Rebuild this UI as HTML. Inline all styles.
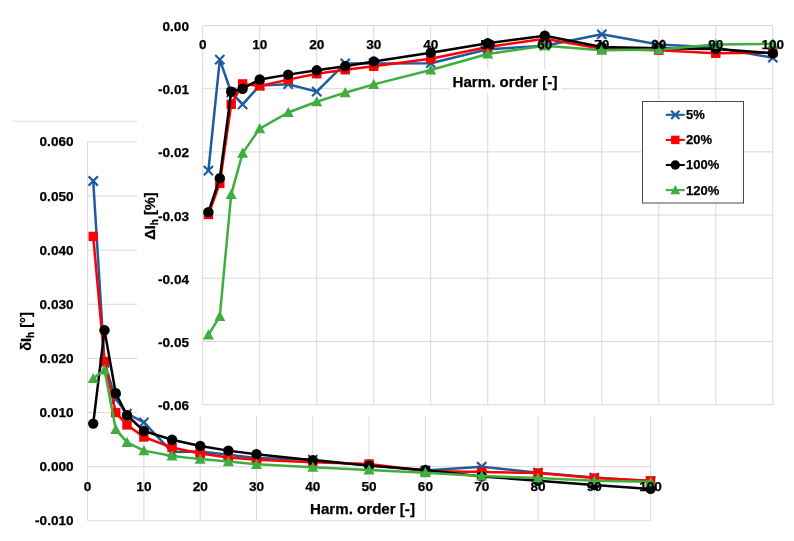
<!DOCTYPE html>
<html><head><meta charset="utf-8"><title>Chart</title>
<style>
html,body{margin:0;padding:0;background:#fff;}
body{width:794px;height:541px;overflow:hidden;}
svg{display:block;}
text{font-family:"Liberation Sans",Arial,sans-serif;font-weight:bold;fill:#000;stroke:#000;stroke-width:0.25px;}
.lb text{font-size:13.6px;}
.lg{font-size:13px;}
.tt{font-size:15.1px;text-anchor:middle;}
.ty{font-size:14.6px;}
.sub{font-size:10px;}
</style></head><body>
<svg width="794" height="541" viewBox="0 0 794 541">
<rect width="794" height="541" fill="#fff"/>
<line x1="12.6" y1="121.2" x2="137" y2="121.2" stroke="#d9d9d9" stroke-width="1"/>
<path d="M87.6 141.92H650.6M87.6 196.05H650.6M87.6 250.18H650.6M87.6 304.31H650.6M87.6 358.44H650.6M87.6 412.57H650.6M87.6 466.7H650.6M87.6 520.83H650.6M143.9 141.92V520.83M200.2 141.92V520.83M256.5 141.92V520.83M312.8 141.92V520.83M369.1 141.92V520.83M425.4 141.92V520.83M481.7 141.92V520.83M538 141.92V520.83M594.3 141.92V520.83M650.6 141.92V520.83M87.6 141.92V520.83" stroke="#d9d9d9" stroke-width="1" fill="none"/>
<polyline points="93.23,181 104.49,362.77 115.75,399.04 127.01,413.65 143.9,422.31 172.05,452.08 200.2,451.54 228.35,454.79 256.5,458.04 312.8,459.66 369.1,465.62 425.4,470.49 481.7,466.7 538,472.65 594.3,477.53 650.6,481.32" fill="none" stroke="#1f5b9e" stroke-width="2.5" stroke-linejoin="round"/>
<path d="M88.63 176.4L97.83 185.6M88.63 185.6L97.83 176.4" stroke="#1f5b9e" stroke-width="2.2" fill="none"/>
<path d="M99.89 358.17L109.09 367.37M99.89 367.37L109.09 358.17" stroke="#1f5b9e" stroke-width="2.2" fill="none"/>
<path d="M111.15 394.44L120.35 403.64M111.15 403.64L120.35 394.44" stroke="#1f5b9e" stroke-width="2.2" fill="none"/>
<path d="M122.41 409.05L131.61 418.25M122.41 418.25L131.61 409.05" stroke="#1f5b9e" stroke-width="2.2" fill="none"/>
<path d="M139.3 417.71L148.5 426.91M139.3 426.91L148.5 417.71" stroke="#1f5b9e" stroke-width="2.2" fill="none"/>
<path d="M167.45 447.48L176.65 456.68M167.45 456.68L176.65 447.48" stroke="#1f5b9e" stroke-width="2.2" fill="none"/>
<path d="M195.6 446.94L204.8 456.14M195.6 456.14L204.8 446.94" stroke="#1f5b9e" stroke-width="2.2" fill="none"/>
<path d="M223.75 450.19L232.95 459.39M223.75 459.39L232.95 450.19" stroke="#1f5b9e" stroke-width="2.2" fill="none"/>
<path d="M251.9 453.44L261.1 462.64M251.9 462.64L261.1 453.44" stroke="#1f5b9e" stroke-width="2.2" fill="none"/>
<path d="M308.2 455.06L317.4 464.26M308.2 464.26L317.4 455.06" stroke="#1f5b9e" stroke-width="2.2" fill="none"/>
<path d="M364.5 461.02L373.7 470.22M364.5 470.22L373.7 461.02" stroke="#1f5b9e" stroke-width="2.2" fill="none"/>
<path d="M420.8 465.89L430 475.09M420.8 475.09L430 465.89" stroke="#1f5b9e" stroke-width="2.2" fill="none"/>
<path d="M477.1 462.1L486.3 471.3M477.1 471.3L486.3 462.1" stroke="#1f5b9e" stroke-width="2.2" fill="none"/>
<path d="M533.4 468.05L542.6 477.25M533.4 477.25L542.6 468.05" stroke="#1f5b9e" stroke-width="2.2" fill="none"/>
<path d="M589.7 472.93L598.9 482.13M589.7 482.13L598.9 472.93" stroke="#1f5b9e" stroke-width="2.2" fill="none"/>
<path d="M646 476.72L655.2 485.92M646 485.92L655.2 476.72" stroke="#1f5b9e" stroke-width="2.2" fill="none"/>
<polyline points="93.23,236.43 104.49,361.42 115.75,412.57 127.01,424.91 143.9,436.98 172.05,447.59 200.2,453.49 228.35,457.5 256.5,459.66 312.8,462.37 369.1,463.99 425.4,471.03 481.7,472.11 538,472.92 594.3,478.07 650.6,480.77" fill="none" stroke="#ff0000" stroke-width="2.5" stroke-linejoin="round"/>
<rect x="88.53" y="231.73" width="9.4" height="9.4" fill="#ff0000"/>
<rect x="99.79" y="356.72" width="9.4" height="9.4" fill="#ff0000"/>
<rect x="111.05" y="407.87" width="9.4" height="9.4" fill="#ff0000"/>
<rect x="122.31" y="420.21" width="9.4" height="9.4" fill="#ff0000"/>
<rect x="139.2" y="432.28" width="9.4" height="9.4" fill="#ff0000"/>
<rect x="167.35" y="442.89" width="9.4" height="9.4" fill="#ff0000"/>
<rect x="195.5" y="448.79" width="9.4" height="9.4" fill="#ff0000"/>
<rect x="223.65" y="452.8" width="9.4" height="9.4" fill="#ff0000"/>
<rect x="251.8" y="454.96" width="9.4" height="9.4" fill="#ff0000"/>
<rect x="308.1" y="457.67" width="9.4" height="9.4" fill="#ff0000"/>
<rect x="364.4" y="459.29" width="9.4" height="9.4" fill="#ff0000"/>
<rect x="420.7" y="466.33" width="9.4" height="9.4" fill="#ff0000"/>
<rect x="477" y="467.41" width="9.4" height="9.4" fill="#ff0000"/>
<rect x="533.3" y="468.22" width="9.4" height="9.4" fill="#ff0000"/>
<rect x="589.6" y="473.37" width="9.4" height="9.4" fill="#ff0000"/>
<rect x="645.9" y="476.07" width="9.4" height="9.4" fill="#ff0000"/>
<polyline points="93.23,423.61 104.49,330.29 115.75,393.3 127.01,415.28 143.9,430.97 172.05,439.8 200.2,445.91 228.35,450.62 256.5,454.3 312.8,460.31 369.1,465.62 425.4,469.95 481.7,476.44 538,480.77 594.3,485.1 650.6,488.89" fill="none" stroke="#000000" stroke-width="2.5" stroke-linejoin="round"/>
<circle cx="93.23" cy="423.61" r="5.2" fill="#000"/>
<circle cx="104.49" cy="330.29" r="5.2" fill="#000"/>
<circle cx="115.75" cy="393.3" r="5.2" fill="#000"/>
<circle cx="127.01" cy="415.28" r="5.2" fill="#000"/>
<circle cx="143.9" cy="430.97" r="5.2" fill="#000"/>
<circle cx="172.05" cy="439.8" r="5.2" fill="#000"/>
<circle cx="200.2" cy="445.91" r="5.2" fill="#000"/>
<circle cx="228.35" cy="450.62" r="5.2" fill="#000"/>
<circle cx="256.5" cy="454.3" r="5.2" fill="#000"/>
<circle cx="312.8" cy="460.31" r="5.2" fill="#000"/>
<circle cx="369.1" cy="465.62" r="5.2" fill="#000"/>
<circle cx="425.4" cy="469.95" r="5.2" fill="#000"/>
<circle cx="481.7" cy="476.44" r="5.2" fill="#000"/>
<circle cx="538" cy="480.77" r="5.2" fill="#000"/>
<circle cx="594.3" cy="485.1" r="5.2" fill="#000"/>
<circle cx="650.6" cy="488.89" r="5.2" fill="#000"/>
<polyline points="93.23,378.52 104.49,369.81 115.75,429.35 127.01,442.34 143.9,450.62 172.05,455.98 200.2,459.12 228.35,461.61 256.5,464.32 312.8,467.24 369.1,469.95 425.4,472.65 481.7,475.9 538,478.07 594.3,480.77 650.6,481.86" fill="none" stroke="#40ad40" stroke-width="2.5" stroke-linejoin="round"/>
<path d="M93.23 372.91L98.73 383.11L87.73 383.11Z" fill="#40ad40"/>
<path d="M104.49 364.2L109.99 374.4L98.99 374.4Z" fill="#40ad40"/>
<path d="M115.75 423.74L121.25 433.94L110.25 433.94Z" fill="#40ad40"/>
<path d="M127.01 436.73L132.51 446.93L121.51 446.93Z" fill="#40ad40"/>
<path d="M143.9 445.01L149.4 455.21L138.4 455.21Z" fill="#40ad40"/>
<path d="M172.05 450.37L177.55 460.57L166.55 460.57Z" fill="#40ad40"/>
<path d="M200.2 453.51L205.7 463.71L194.7 463.71Z" fill="#40ad40"/>
<path d="M228.35 456L233.85 466.2L222.85 466.2Z" fill="#40ad40"/>
<path d="M256.5 458.71L262 468.91L251 468.91Z" fill="#40ad40"/>
<path d="M312.8 461.63L318.3 471.83L307.3 471.83Z" fill="#40ad40"/>
<path d="M369.1 464.34L374.6 474.54L363.6 474.54Z" fill="#40ad40"/>
<path d="M425.4 467.04L430.9 477.24L419.9 477.24Z" fill="#40ad40"/>
<path d="M481.7 470.29L487.2 480.49L476.2 480.49Z" fill="#40ad40"/>
<path d="M538 472.46L543.5 482.66L532.5 482.66Z" fill="#40ad40"/>
<path d="M594.3 475.16L599.8 485.36L588.8 485.36Z" fill="#40ad40"/>
<path d="M650.6 476.25L656.1 486.45L645.1 486.45Z" fill="#40ad40"/>
<g class="lb"><text x="73.6" y="146.42" text-anchor="end">0.060</text><text x="73.6" y="200.55" text-anchor="end">0.050</text><text x="73.6" y="254.68" text-anchor="end">0.040</text><text x="73.6" y="308.81" text-anchor="end">0.030</text><text x="73.6" y="362.94" text-anchor="end">0.020</text><text x="73.6" y="417.07" text-anchor="end">0.010</text><text x="73.6" y="471.2" text-anchor="end">0.000</text><text x="73.6" y="525.33" text-anchor="end">-0.010</text><text x="87.6" y="490.8" text-anchor="middle">0</text><text x="143.9" y="490.8" text-anchor="middle">10</text><text x="200.2" y="490.8" text-anchor="middle">20</text><text x="256.5" y="490.8" text-anchor="middle">30</text><text x="312.8" y="490.8" text-anchor="middle">40</text><text x="369.1" y="490.8" text-anchor="middle">50</text><text x="425.4" y="490.8" text-anchor="middle">60</text><text x="481.7" y="490.8" text-anchor="middle">70</text><text x="538" y="490.8" text-anchor="middle">80</text><text x="594.3" y="490.8" text-anchor="middle">90</text><text x="650.6" y="490.8" text-anchor="middle">100</text></g>
<rect x="308" y="495" width="110" height="24" fill="#fff"/>
<text class="tt" x="362.5" y="514">Harm. order [-]</text>
<text class="tt ty" transform="translate(30.5,331.5) rotate(-90)" text-anchor="middle">&#948;I<tspan class="sub" dy="3">h</tspan><tspan dy="-3"> [&#176;]</tspan></text>
<rect x="137" y="0" width="657" height="416" fill="#fff"/>
<path d="M202.7 25.5H772.8M202.7 88.7H772.8M202.7 151.9H772.8M202.7 215.1H772.8M202.7 278.3H772.8M202.7 341.5H772.8M202.7 404.7H772.8M259.71 25.5V404.7M316.72 25.5V404.7M373.73 25.5V404.7M430.74 25.5V404.7M487.75 25.5V404.7M544.76 25.5V404.7M601.77 25.5V404.7M658.78 25.5V404.7M715.79 25.5V404.7M772.8 25.5V404.7M202.7 25.5V404.7" stroke="#d9d9d9" stroke-width="1" fill="none"/>
<rect x="449.5" y="69" width="112" height="24" fill="#fff"/>
<polyline points="208.4,170.67 219.8,59.69 231.2,92.49 242.61,104.31 259.71,85.54 288.21,84.21 316.72,91.61 345.22,63.42 373.73,63.42 430.74,63.23 487.75,49.26 544.76,45.72 601.77,34.35 658.78,44.46 715.79,47.62 772.8,57.73" fill="none" stroke="#1f5b9e" stroke-width="2.5" stroke-linejoin="round"/>
<path d="M203.8 166.07L213 175.27M203.8 175.27L213 166.07" stroke="#1f5b9e" stroke-width="2.2" fill="none"/>
<path d="M215.2 55.09L224.4 64.29M215.2 64.29L224.4 55.09" stroke="#1f5b9e" stroke-width="2.2" fill="none"/>
<path d="M226.6 87.89L235.8 97.09M226.6 97.09L235.8 87.89" stroke="#1f5b9e" stroke-width="2.2" fill="none"/>
<path d="M238.01 99.71L247.21 108.91M238.01 108.91L247.21 99.71" stroke="#1f5b9e" stroke-width="2.2" fill="none"/>
<path d="M255.11 80.94L264.31 90.14M255.11 90.14L264.31 80.94" stroke="#1f5b9e" stroke-width="2.2" fill="none"/>
<path d="M283.61 79.61L292.81 88.81M283.61 88.81L292.81 79.61" stroke="#1f5b9e" stroke-width="2.2" fill="none"/>
<path d="M312.12 87.01L321.32 96.21M312.12 96.21L321.32 87.01" stroke="#1f5b9e" stroke-width="2.2" fill="none"/>
<path d="M340.62 58.82L349.82 68.02M340.62 68.02L349.82 58.82" stroke="#1f5b9e" stroke-width="2.2" fill="none"/>
<path d="M369.13 58.82L378.33 68.02M369.13 68.02L378.33 58.82" stroke="#1f5b9e" stroke-width="2.2" fill="none"/>
<path d="M426.14 58.63L435.34 67.83M426.14 67.83L435.34 58.63" stroke="#1f5b9e" stroke-width="2.2" fill="none"/>
<path d="M483.15 44.66L492.35 53.86M483.15 53.86L492.35 44.66" stroke="#1f5b9e" stroke-width="2.2" fill="none"/>
<path d="M540.16 41.12L549.36 50.32M540.16 50.32L549.36 41.12" stroke="#1f5b9e" stroke-width="2.2" fill="none"/>
<path d="M597.17 29.75L606.37 38.95M597.17 38.95L606.37 29.75" stroke="#1f5b9e" stroke-width="2.2" fill="none"/>
<path d="M654.18 39.86L663.38 49.06M654.18 49.06L663.38 39.86" stroke="#1f5b9e" stroke-width="2.2" fill="none"/>
<path d="M711.19 43.02L720.39 52.22M711.19 52.22L720.39 43.02" stroke="#1f5b9e" stroke-width="2.2" fill="none"/>
<path d="M768.2 53.13L777.4 62.33M768.2 62.33L777.4 53.13" stroke="#1f5b9e" stroke-width="2.2" fill="none"/>
<polyline points="208.4,214.47 219.8,183.31 231.2,104.31 242.61,83.9 259.71,85.92 288.21,79.6 316.72,73.72 345.22,69.74 373.73,66.33 430.74,58.68 487.75,46.99 544.76,38.77 601.77,48.88 658.78,50.15 715.79,53.31 772.8,52.68" fill="none" stroke="#ff0000" stroke-width="2.5" stroke-linejoin="round"/>
<rect x="203.7" y="209.77" width="9.4" height="9.4" fill="#ff0000"/>
<rect x="215.1" y="178.61" width="9.4" height="9.4" fill="#ff0000"/>
<rect x="226.5" y="99.61" width="9.4" height="9.4" fill="#ff0000"/>
<rect x="237.91" y="79.2" width="9.4" height="9.4" fill="#ff0000"/>
<rect x="255.01" y="81.22" width="9.4" height="9.4" fill="#ff0000"/>
<rect x="283.51" y="74.9" width="9.4" height="9.4" fill="#ff0000"/>
<rect x="312.02" y="69.02" width="9.4" height="9.4" fill="#ff0000"/>
<rect x="340.52" y="65.04" width="9.4" height="9.4" fill="#ff0000"/>
<rect x="369.03" y="61.63" width="9.4" height="9.4" fill="#ff0000"/>
<rect x="426.04" y="53.98" width="9.4" height="9.4" fill="#ff0000"/>
<rect x="483.05" y="42.29" width="9.4" height="9.4" fill="#ff0000"/>
<rect x="540.06" y="34.07" width="9.4" height="9.4" fill="#ff0000"/>
<rect x="597.07" y="44.18" width="9.4" height="9.4" fill="#ff0000"/>
<rect x="654.08" y="45.45" width="9.4" height="9.4" fill="#ff0000"/>
<rect x="711.09" y="48.61" width="9.4" height="9.4" fill="#ff0000"/>
<rect x="768.1" y="47.98" width="9.4" height="9.4" fill="#ff0000"/>
<polyline points="208.4,212.13 219.8,178.13 231.2,91.8 242.61,88.7 259.71,79.54 288.21,74.61 316.72,70.31 345.22,66.14 373.73,61.4 430.74,52.68 487.75,43.2 544.76,35.8 601.77,46.99 658.78,48.25 715.79,48.88 772.8,53.31" fill="none" stroke="#000000" stroke-width="2.5" stroke-linejoin="round"/>
<circle cx="208.4" cy="212.13" r="5.2" fill="#000"/>
<circle cx="219.8" cy="178.13" r="5.2" fill="#000"/>
<circle cx="231.2" cy="91.8" r="5.2" fill="#000"/>
<circle cx="242.61" cy="88.7" r="5.2" fill="#000"/>
<circle cx="259.71" cy="79.54" r="5.2" fill="#000"/>
<circle cx="288.21" cy="74.61" r="5.2" fill="#000"/>
<circle cx="316.72" cy="70.31" r="5.2" fill="#000"/>
<circle cx="345.22" cy="66.14" r="5.2" fill="#000"/>
<circle cx="373.73" cy="61.4" r="5.2" fill="#000"/>
<circle cx="430.74" cy="52.68" r="5.2" fill="#000"/>
<circle cx="487.75" cy="43.2" r="5.2" fill="#000"/>
<circle cx="544.76" cy="35.8" r="5.2" fill="#000"/>
<circle cx="601.77" cy="46.99" r="5.2" fill="#000"/>
<circle cx="658.78" cy="48.25" r="5.2" fill="#000"/>
<circle cx="715.79" cy="48.88" r="5.2" fill="#000"/>
<circle cx="772.8" cy="53.31" r="5.2" fill="#000"/>
<polyline points="208.4,334.93 219.8,316.41 231.2,194.43 242.61,153.16 259.71,128.58 288.21,112.53 316.72,101.78 345.22,92.68 373.73,84.4 430.74,69.99 487.75,53.94 544.76,45.72 601.77,50.15 658.78,49.52 715.79,44.46 772.8,43.83" fill="none" stroke="#40ad40" stroke-width="2.5" stroke-linejoin="round"/>
<path d="M208.4 329.32L213.9 339.52L202.9 339.52Z" fill="#40ad40"/>
<path d="M219.8 310.8L225.3 321L214.3 321Z" fill="#40ad40"/>
<path d="M231.2 188.82L236.7 199.02L225.7 199.02Z" fill="#40ad40"/>
<path d="M242.61 147.55L248.11 157.75L237.11 157.75Z" fill="#40ad40"/>
<path d="M259.71 122.97L265.21 133.17L254.21 133.17Z" fill="#40ad40"/>
<path d="M288.21 106.92L293.71 117.12L282.71 117.12Z" fill="#40ad40"/>
<path d="M316.72 96.17L322.22 106.37L311.22 106.37Z" fill="#40ad40"/>
<path d="M345.22 87.07L350.72 97.27L339.72 97.27Z" fill="#40ad40"/>
<path d="M373.73 78.79L379.23 88.99L368.23 88.99Z" fill="#40ad40"/>
<path d="M430.74 64.38L436.24 74.58L425.24 74.58Z" fill="#40ad40"/>
<path d="M487.75 48.33L493.25 58.53L482.25 58.53Z" fill="#40ad40"/>
<path d="M544.76 40.11L550.26 50.31L539.26 50.31Z" fill="#40ad40"/>
<path d="M601.77 44.54L607.27 54.74L596.27 54.74Z" fill="#40ad40"/>
<path d="M658.78 43.91L664.28 54.11L653.28 54.11Z" fill="#40ad40"/>
<path d="M715.79 38.85L721.29 49.05L710.29 49.05Z" fill="#40ad40"/>
<path d="M772.8 38.22L778.3 48.42L767.3 48.42Z" fill="#40ad40"/>
<g class="lb"><text x="189" y="31" text-anchor="end">0.00</text><text x="189" y="94.2" text-anchor="end">-0.01</text><text x="189" y="157.4" text-anchor="end">-0.02</text><text x="189" y="220.6" text-anchor="end">-0.03</text><text x="189" y="283.8" text-anchor="end">-0.04</text><text x="189" y="347" text-anchor="end">-0.05</text><text x="189" y="410.2" text-anchor="end">-0.06</text><text x="202.7" y="49.3" text-anchor="middle">0</text><text x="259.71" y="49.3" text-anchor="middle">10</text><text x="316.72" y="49.3" text-anchor="middle">20</text><text x="373.73" y="49.3" text-anchor="middle">30</text><text x="430.74" y="49.3" text-anchor="middle">40</text><text x="487.75" y="49.3" text-anchor="middle">50</text><text x="544.76" y="49.3" text-anchor="middle">60</text><text x="601.77" y="49.3" text-anchor="middle">70</text><text x="658.78" y="49.3" text-anchor="middle">80</text><text x="715.79" y="49.3" text-anchor="middle">90</text><text x="772.8" y="49.3" text-anchor="middle">100</text></g>
<text class="tt" x="505" y="87.3">Harm. order [-]</text>
<text class="tt ty" transform="translate(155,216) rotate(-90)" text-anchor="middle">&#916;I<tspan class="sub" dy="3">h</tspan><tspan dy="-3"> [%]</tspan></text>
<rect x="642.5" y="101.5" width="101" height="101.5" fill="#fff" stroke="#4a4a4a" stroke-width="1"/>
<line x1="665.8" y1="114.8" x2="684.8" y2="114.8" stroke="#1f5b9e" stroke-width="2.1"/>
<path d="M671.16 110.66L679.44 118.94M671.16 118.94L679.44 110.66" stroke="#1f5b9e" stroke-width="2.2" fill="none"/>
<text class="lg" x="686" y="119.2">5%</text>
<line x1="665.8" y1="139.9" x2="684.8" y2="139.9" stroke="#ff0000" stroke-width="2.1"/>
<rect x="671.07" y="135.67" width="8.46" height="8.46" fill="#ff0000"/>
<text class="lg" x="686" y="144.3">20%</text>
<line x1="665.8" y1="165" x2="684.8" y2="165" stroke="#000000" stroke-width="2.1"/>
<circle cx="675.3" cy="165" r="4.68" fill="#000"/>
<text class="lg" x="686" y="169.4">100%</text>
<line x1="665.8" y1="190.1" x2="684.8" y2="190.1" stroke="#40ad40" stroke-width="2.1"/>
<path d="M675.3 185.05L680.25 194.23L670.35 194.23Z" fill="#40ad40"/>
<text class="lg" x="686" y="194.5">120%</text>
</svg>
</body></html>
